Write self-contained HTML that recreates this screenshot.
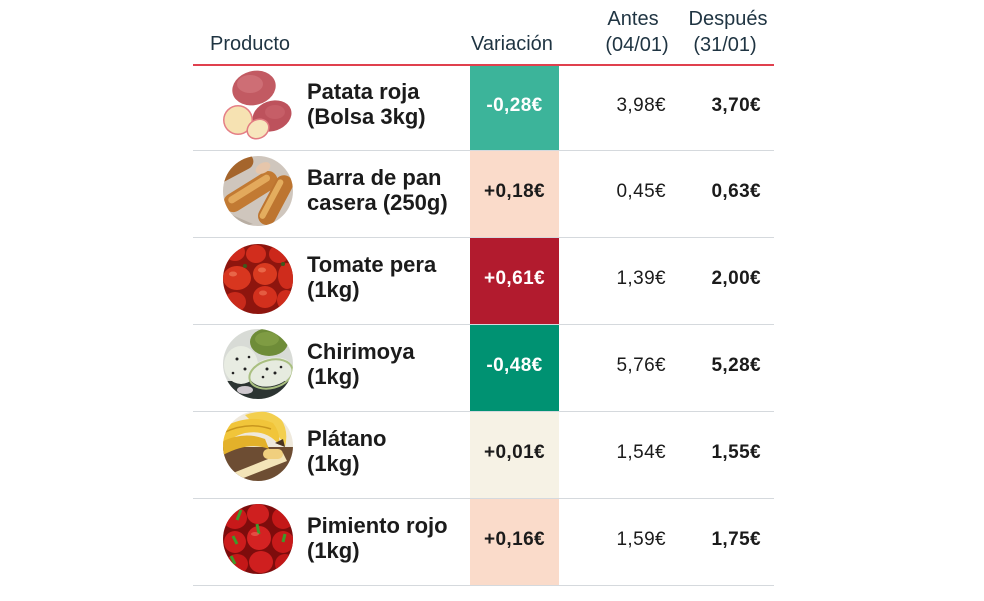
<!DOCTYPE html>
<html><head><meta charset="utf-8"><style>
*{margin:0;padding:0;box-sizing:border-box}
html,body{width:984px;height:601px;background:#fff;overflow:hidden}
body{position:relative;font-family:"Liberation Sans",sans-serif;color:#1b1b1b}
.h{position:absolute;font-size:20px;line-height:20px;color:#1f3442;white-space:nowrap}
.hc{text-align:center;width:90px}
.line{position:absolute;left:193px;width:581px;height:1px;background:#d5d9dd}
.red{position:absolute;left:193px;width:581px;top:64px;height:1.5px;background:#e0404e}
.cell{position:absolute;left:470px;width:89px}
.name{position:absolute;left:307px;font-size:22px;line-height:25px;font-weight:bold;white-space:nowrap;color:#1b1b1b}
.v{position:absolute;font-size:19px;line-height:19px;white-space:nowrap;letter-spacing:0.4px}
.var{left:470px;width:89px;text-align:center;font-weight:bold}
.ant{right:318px;text-align:right}
.des{right:223px;text-align:right;font-weight:bold}
svg.img{position:absolute;left:223px;width:70px;height:70px}
</style></head><body>

<div class="h" style="left:210px;top:34px">Producto</div>
<div class="h" style="left:471px;top:34px">Variación</div>
<div class="h hc" style="left:588px;top:9px">Antes</div>
<div class="h hc" style="left:592px;top:35px">(04/01)</div>
<div class="h hc" style="left:683px;top:9px">Después</div>
<div class="h hc" style="left:680px;top:35px">(31/01)</div>

<!-- variation cells -->
<div class="cell" style="top:65px;height:85px;background:#3cb49a"></div>
<div class="cell" style="top:151px;height:86px;background:#fadbca"></div>
<div class="cell" style="top:238px;height:86px;background:#b21b2e"></div>
<div class="cell" style="top:325px;height:86px;background:#009272"></div>
<div class="cell" style="top:412px;height:86px;background:#f6f2e5"></div>
<div class="cell" style="top:499px;height:86px;background:#fadbca"></div>

<div class="red"></div>
<div class="line" style="top:150px"></div>
<div class="line" style="top:237px"></div>
<div class="line" style="top:324px"></div>
<div class="line" style="top:411px"></div>
<div class="line" style="top:498px"></div>
<div class="line" style="top:585px"></div>

<!-- names -->
<div class="name" style="top:79px">Patata roja<br>(Bolsa 3kg)</div>
<div class="name" style="top:165px">Barra de pan<br>casera (250g)</div>
<div class="name" style="top:252px">Tomate pera<br>(1kg)</div>
<div class="name" style="top:339px">Chirimoya<br>(1kg)</div>
<div class="name" style="top:426px">Plátano<br>(1kg)</div>
<div class="name" style="top:513px">Pimiento rojo<br>(1kg)</div>

<!-- values -->
<div class="v var" style="top:96px;color:#fff">-0,28€</div>
<div class="v ant" style="top:96px">3,98€</div>
<div class="v des" style="top:96px">3,70€</div>

<div class="v var" style="top:182px">+0,18€</div>
<div class="v ant" style="top:182px">0,45€</div>
<div class="v des" style="top:182px">0,63€</div>

<div class="v var" style="top:269px;color:#fff">+0,61€</div>
<div class="v ant" style="top:269px">1,39€</div>
<div class="v des" style="top:269px">2,00€</div>

<div class="v var" style="top:356px;color:#fff">-0,48€</div>
<div class="v ant" style="top:356px">5,76€</div>
<div class="v des" style="top:356px">5,28€</div>

<div class="v var" style="top:443px">+0,01€</div>
<div class="v ant" style="top:443px">1,54€</div>
<div class="v des" style="top:443px">1,55€</div>

<div class="v var" style="top:530px">+0,16€</div>
<div class="v ant" style="top:530px">1,59€</div>
<div class="v des" style="top:530px">1,75€</div>

<!-- potato -->
<svg class="img" style="top:70px" viewBox="0 0 70 70">
  <ellipse cx="31" cy="18" rx="22" ry="17" fill="#c25a62" transform="rotate(-15 31 18)"/>
  <ellipse cx="27" cy="14" rx="13" ry="9" fill="#d67c82" opacity=".6"/>
  <ellipse cx="49" cy="46" rx="20" ry="15" fill="#bd525c" transform="rotate(-20 49 46)"/>
  <ellipse cx="52" cy="42" rx="10" ry="7" fill="#d06a72" opacity=".5"/>
  <circle cx="15" cy="50" r="15" fill="#e57f86"/>
  <circle cx="15" cy="50" r="13.5" fill="#f6e2b2"/>
  <ellipse cx="35" cy="59" rx="12" ry="10" fill="#e27b82" transform="rotate(-30 35 59)"/>
  <ellipse cx="35" cy="59" rx="10.5" ry="8.5" fill="#f7e6bd" transform="rotate(-30 35 59)"/>
</svg>

<!-- bread -->
<svg class="img" style="top:156px" viewBox="0 0 70 70">
  <defs><clipPath id="c2"><circle cx="35" cy="35" r="35"/></clipPath></defs>
  <g clip-path="url(#c2)">
    <rect width="70" height="70" fill="#cfc6bd"/>
    <rect x="-12" y="4" width="44" height="16" rx="8" fill="#a5652c" transform="rotate(-28 10 12)"/>
    <rect x="-2" y="26" width="60" height="19" rx="9" fill="#c27a33" transform="rotate(-32 28 36)"/>
    <rect x="4" y="29" width="48" height="7" rx="3.5" fill="#e3a95c" transform="rotate(-32 28 36)"/>
    <rect x="26" y="36" width="54" height="18" rx="9" fill="#bd7530" transform="rotate(-62 52 45)"/>
    <rect x="30" y="38" width="44" height="6" rx="3" fill="#e4ad5e" transform="rotate(-62 52 45)"/>
    <ellipse cx="40" cy="12" rx="8" ry="5" fill="#e6c6ab" transform="rotate(-30 40 12)"/>
    <path d="M0 55 L30 68 L0 75 Z" fill="#b8aea3"/>
  </g>
</svg>

<!-- tomato -->
<svg class="img" style="top:244px" viewBox="0 0 70 70">
  <defs><clipPath id="c3"><circle cx="35" cy="35" r="35"/></clipPath></defs>
  <g clip-path="url(#c3)">
    <rect width="70" height="70" fill="#8e150e"/>
    <ellipse cx="12" cy="8" rx="10" ry="9" fill="#cf2a1c"/>
    <ellipse cx="33" cy="10" rx="10" ry="9" fill="#d22d1d"/>
    <ellipse cx="56" cy="10" rx="10" ry="9" fill="#cc281b"/>
    <ellipse cx="14" cy="34" rx="14" ry="12" fill="#d8361f"/>
    <ellipse cx="42" cy="30" rx="12" ry="11" fill="#d93a20"/>
    <ellipse cx="64" cy="32" rx="9" ry="13" fill="#cf2c1c"/>
    <ellipse cx="42" cy="53" rx="12" ry="11" fill="#d3301d"/>
    <ellipse cx="12" cy="58" rx="11" ry="10" fill="#c92a1b"/>
    <ellipse cx="63" cy="56" rx="9" ry="10" fill="#cf2c1c"/>
    <ellipse cx="39" cy="26" rx="4" ry="2.5" fill="#f07a5a" opacity=".7"/>
    <ellipse cx="10" cy="30" rx="4" ry="2.5" fill="#f07a5a" opacity=".7"/>
    <ellipse cx="40" cy="49" rx="4" ry="2.5" fill="#f07a5a" opacity=".6"/>
    <circle cx="22" cy="22" r="2" fill="#3d5a1c"/>
    <circle cx="60" cy="20" r="2" fill="#3d5a1c"/>
  </g>
</svg>

<!-- chirimoya -->
<svg class="img" style="top:329px" viewBox="0 0 70 70">
  <defs><clipPath id="c4"><circle cx="35" cy="35" r="35"/></clipPath></defs>
  <g clip-path="url(#c4)">
    <rect width="70" height="70" fill="#d8dbd6"/>
    <rect x="0" y="52" width="70" height="20" fill="#2c3432"/>
    <ellipse cx="46" cy="13" rx="19" ry="14" fill="#6e8c38"/>
    <ellipse cx="44" cy="10" rx="12" ry="7" fill="#86a348" opacity=".7"/>
    <ellipse cx="18" cy="36" rx="17" ry="19" fill="#e8ece2"/>
    <ellipse cx="48" cy="43" rx="22" ry="14" fill="#e6ebdf" transform="rotate(-15 48 43)"/>
    <ellipse cx="48" cy="45" rx="22" ry="14" fill="none" stroke="#a9bf80" stroke-width="2" transform="rotate(-15 48 45)"/>
    <circle cx="14" cy="30" r="1.5" fill="#222"/><circle cx="22" cy="40" r="1.5" fill="#222"/>
    <circle cx="10" cy="44" r="1.3" fill="#222"/><circle cx="26" cy="28" r="1.3" fill="#222"/>
    <circle cx="44" cy="40" r="1.5" fill="#222"/><circle cx="52" cy="44" r="1.5" fill="#222"/>
    <circle cx="58" cy="38" r="1.3" fill="#222"/><circle cx="40" cy="48" r="1.3" fill="#222"/>
    <ellipse cx="22" cy="61" rx="8" ry="4" fill="#cfc9cf"/>
  </g>
</svg>

<!-- banana -->
<svg class="img" style="top:411px" viewBox="0 0 70 70">
  <defs><clipPath id="c5"><circle cx="35" cy="35" r="35"/></clipPath></defs>
  <g clip-path="url(#c5)">
    <rect width="70" height="70" fill="#efe9dc"/>
    <rect x="0" y="36" width="70" height="40" fill="#6d4d33"/>
    <path d="M22 4 Q45 -4 58 8 Q66 20 62 36 Q52 14 30 12 Z" fill="#f3cf4e"/>
    <path d="M0 16 Q28 2 50 12 Q58 22 56 34 Q44 18 22 22 Q8 26 0 34 Z" fill="#f1c53a"/>
    <path d="M0 30 Q22 20 42 28 L46 38 Q26 30 0 44 Z" fill="#e3b12a"/>
    <path d="M0 22 Q25 10 48 18" stroke="#c8961e" stroke-width="1.5" fill="none"/>
    <path d="M10 62 L60 42 L64 50 L18 68 Z" fill="#f3e4b8"/>
    <rect x="40" y="38" width="20" height="10" rx="5" fill="#f0cf7e"/>
    <path d="M52 32 L60 28 L62 36 Z" fill="#4a3420"/>
  </g>
</svg>

<!-- pepper -->
<svg class="img" style="top:504px" viewBox="0 0 70 70">
  <defs><clipPath id="c6"><circle cx="35" cy="35" r="35"/></clipPath></defs>
  <g clip-path="url(#c6)">
    <rect width="70" height="70" fill="#7e0c0c"/>
    <ellipse cx="12" cy="14" rx="12" ry="11" fill="#c8191a"/>
    <ellipse cx="35" cy="10" rx="11" ry="10" fill="#cf1f1f"/>
    <ellipse cx="60" cy="14" rx="11" ry="11" fill="#c41818"/>
    <ellipse cx="12" cy="38" rx="11" ry="11" fill="#cc1c1c"/>
    <ellipse cx="36" cy="34" rx="12" ry="12" fill="#d42222"/>
    <ellipse cx="60" cy="38" rx="11" ry="11" fill="#c81a1a"/>
    <ellipse cx="14" cy="60" rx="11" ry="10" fill="#c41818"/>
    <ellipse cx="38" cy="58" rx="12" ry="11" fill="#cf1f1f"/>
    <ellipse cx="62" cy="60" rx="10" ry="10" fill="#c21717"/>
    <path d="M14 16 L18 6" stroke="#3e9a2a" stroke-width="3"/>
    <path d="M36 30 L34 20" stroke="#3e9a2a" stroke-width="3"/>
    <path d="M60 38 L62 30" stroke="#3e9a2a" stroke-width="3"/>
    <path d="M14 40 L10 32" stroke="#3e9a2a" stroke-width="3"/>
    <path d="M12 60 L8 52" stroke="#3e9a2a" stroke-width="3"/>
    <ellipse cx="32" cy="30" rx="4" ry="2" fill="#ef6a5a" opacity=".6"/>
  </g>
</svg>

</body></html>
